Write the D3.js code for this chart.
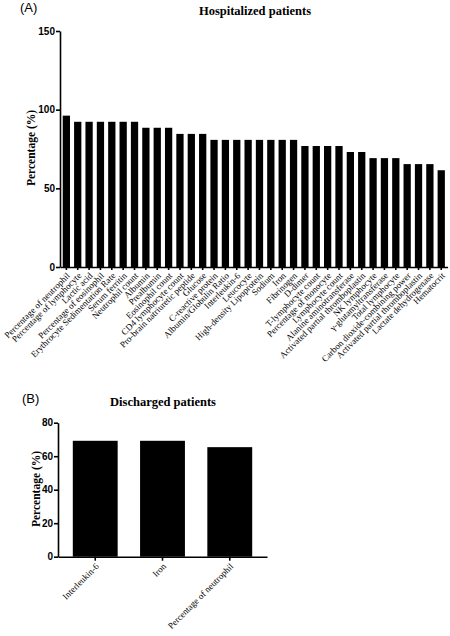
<!DOCTYPE html>
<html>
<head>
<meta charset="utf-8">
<script src="https://cdn.jsdelivr.net/npm/d3@7"></script>
<style>
  html, body { margin: 0; padding: 0; background: #fff; }
  svg { display: block; }
</style>
</head>
<body>
<svg id="chart" width="450" height="636"></svg>
<script>
// ---- Data ----
const categoriesA = [
  "Percentage of neutrophil", "Percentage of lymphocyte", "Lactic acid",
  "Percentage of eosinophil", "Erythrocyte Sedimentation Rate", "Serum ferritin",
  "Neutrophil count", "Albumin", "Prealbumin", "Eosinophil count",
  "CD4 lymphocyte count", "Pro-brain natriuretic peptide", "Glucose",
  "C-reactive protein", "Albumin/Globulin Ratio", "Interleukin-6", "Leucocyte",
  "High-density Lipoprotein", "Sodium", "Iron", "Fibrinogen", "D-dimer",
  "T-lymphocyte count", "Percentage of monocyte", "Lymphocyte count",
  "Alanine aminotransferase", "Activated partial thromboplastin", "NK lymphocyte",
  "\u03b3-glutamyltransferase", "Total lymphocyte", "Carbon dioxide-combining power",
  "Activated partial thromboplastin", "Lactate dehydrogenase", "Hematocrit"
];
const valuesA = [
  96.2, 92.3, 92.3, 92.3, 92.3, 92.3, 92.3, 88.5, 88.5, 88.5,
  84.6, 84.6, 84.6, 80.8, 80.8, 80.8, 80.8, 80.8, 80.8, 80.8, 80.8,
  76.9, 76.9, 76.9, 76.9, 73.1, 73.1, 69.2, 69.2, 69.2,
  65.4, 65.4, 65.4, 61.5
];
const ticksA = [0, 50, 100, 150];

const categoriesB = ["Interleukin-6", "Iron", "Percentage of neutrophil"];
const valuesB = [69.2, 69.2, 65.4];
const ticksB = [0, 20, 40, 60, 80];

const titleA = "Hospitalized patients";
const titleB = "Discharged patients";
const yLabel = "Percentage (%)";

// ---- Drawing ----
const svg = d3.select("#chart");
const SERIF = "'Liberation Serif', 'Times New Roman', serif";
const SANS = "'Liberation Sans', Arial, sans-serif";

function drawPanel(opts) {
  const { cats, vals, ticks, yMax, xRange, yRange, pInner, pOuter,
          title, titleX, titleY, panel, panelX, panelY, labelX, labelY,
          xFont, xTick } = opts;
  const g = svg.append("g");
  const x = d3.scaleBand().domain(d3.range(cats.length)).range(xRange)
    .paddingInner(pInner).paddingOuter(pOuter);
  const y = d3.scaleLinear().domain([0, yMax]).range(yRange);

  g.append("g").selectAll("rect").data(vals).join("rect")
    .attr("x", (d, i) => x(i))
    .attr("y", d => y(d))
    .attr("width", x.bandwidth())
    .attr("height", d => y(0) - y(d))
    .attr("fill", "#000");

  const yAxis = g.append("g")
    .attr("transform", `translate(${xRange[0]},0)`)
    .call(d3.axisLeft(y).tickValues(ticks).tickSize(4).tickSizeOuter(0).tickPadding(1));
  yAxis.selectAll("path, line").attr("stroke", "#000").attr("stroke-width", 1.6);
  yAxis.selectAll("text").attr("font-family", SANS).attr("font-weight", "bold")
    .attr("font-size", 10).attr("fill", "#000");

  const xAxis = g.append("g")
    .attr("transform", `translate(0,${yRange[0]})`)
    .call(d3.axisBottom(x).tickSize(xTick).tickSizeOuter(0).tickFormat(i => cats[i]));
  xAxis.selectAll("path, line").attr("stroke", "#000").attr("stroke-width", 1.6);
  xAxis.selectAll("text")
    .attr("font-family", SERIF).attr("font-size", xFont).attr("fill", "#000")
    .attr("x", 0).attr("y", 0).attr("dy", "0.35em")
    .attr("transform", `translate(2,${xTick + 4}) rotate(-45)`)
    .style("text-anchor", "end");

  g.append("text").attr("x", titleX).attr("y", titleY)
    .attr("text-anchor", "middle").attr("font-family", SERIF)
    .attr("font-weight", "bold").attr("font-size", 12.5).attr("fill", "#000")
    .text(title);

  g.append("text").attr("x", panelX).attr("y", panelY)
    .attr("font-family", SANS).attr("font-size", 13).attr("fill", "#000")
    .text(panel);

  g.append("text")
    .attr("transform", `translate(${labelX},${labelY}) rotate(-90)`)
    .attr("text-anchor", "middle").attr("font-family", SERIF)
    .attr("font-weight", "bold").attr("font-size", 11.5).attr("fill", "#000")
    .text(yLabel);
}

drawPanel({
  cats: categoriesA, vals: valuesA, ticks: ticksA, yMax: 150,
  xRange: [60, 447.6], yRange: [267, 31], pInner: 0.36, pOuter: 0.24,
  title: titleA, titleX: 255, titleY: 15, panel: "(A)", panelX: 20, panelY: 12,
  labelX: 35, labelY: 148, xFont: 9, xTick: 3
});

drawPanel({
  cats: categoriesB, vals: valuesB, ticks: ticksB, yMax: 80,
  xRange: [58, 267], yRange: [556.7, 422.7], pInner: 0.333, pOuter: 0.22,
  title: titleB, titleX: 163, titleY: 406, panel: "(B)", panelX: 22, panelY: 403,
  labelX: 40, labelY: 489, xFont: 9, xTick: 4
});
</script>
</body>
</html>
